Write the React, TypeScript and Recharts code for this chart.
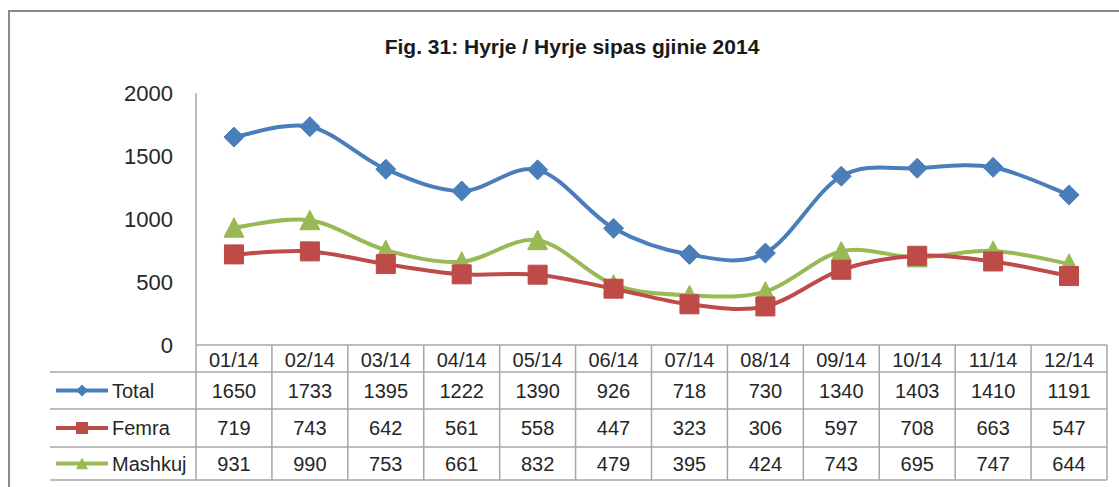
import React from "react";
import { LineChart, Line, XAxis, YAxis } from "recharts";

const CATEGORIES = ["01/14", "02/14", "03/14", "04/14", "05/14", "06/14", "07/14", "08/14", "09/14", "10/14", "11/14", "12/14"];
const TOTAL = [1650, 1733, 1395, 1222, 1390, 926, 718, 730, 1340, 1403, 1410, 1191];
const FEMRA = [719, 743, 642, 561, 558, 447, 323, 306, 597, 708, 663, 547];
const MASHKUJ = [931, 990, 753, 661, 832, 479, 395, 424, 743, 695, 747, 644];
const Y_TICKS = [0, 500, 1000, 1500, 2000];
const TITLE = "Fig. 31: Hyrje / Hyrje sipas gjinie 2014";

const SERIES = [
  { key: "Total", values: TOTAL, color: "#4a7ebb", marker: "diamond" },
  { key: "Femra", values: FEMRA, color: "#be4b48", marker: "square" },
  { key: "Mashkuj", values: MASHKUJ, color: "#98b954", marker: "triangle" },
];

const data = CATEGORIES.map((c, i) => ({
  month: c,
  Total: TOTAL[i],
  Femra: FEMRA[i],
  Mashkuj: MASHKUJ[i],
}));

// layout (chart coordinates)
const W = 1100;
const H = 475;
const M = { top: 81, right: 3, left: 0, bottom: 7 };
const Y_W = 186;
const TABLE_H = 135;
const PLOT_W = W - M.left - M.right - Y_W;
const BAND = PLOT_W / CATEGORIES.length;
const AXIS_Y = H - M.bottom - TABLE_H;
const ROWS = [AXIS_Y, AXIS_Y + 27, AXIS_Y + 64, AXIS_Y + 102, AXIS_Y + TABLE_H];
const GRID = "#a6a6a6";
const FONT = "'Liberation Sans', Arial, sans-serif";
const TEXT = "#262626";

// Excel style smoothing (catmull-rom as bezier)
function excelCurve(context: any) {
  let pts: number[][] = [];
  return {
    areaStart() {},
    areaEnd() {},
    lineStart() {
      pts = [];
    },
    point(x: number, y: number) {
      pts.push([+x, +y]);
    },
    lineEnd() {
      if (!pts.length) return;
      context.moveTo(pts[0][0], pts[0][1]);
      for (let i = 0; i < pts.length - 1; i++) {
        const p0 = pts[i - 1] || pts[i];
        const p1 = pts[i];
        const p2 = pts[i + 1];
        const p3 = pts[i + 2] || p2;
        context.bezierCurveTo(
          p1[0] + (p2[0] - p0[0]) / 6,
          p1[1] + (p2[1] - p0[1]) / 6,
          p2[0] - (p3[0] - p1[0]) / 6,
          p2[1] - (p3[1] - p1[1]) / 6,
          p2[0],
          p2[1]
        );
      }
    },
  };
}

function markerPath(kind: string, cx: number, cy: number, s: number) {
  if (kind === "diamond") return `M${cx},${cy - s}L${cx + s},${cy}L${cx},${cy + s}L${cx - s},${cy}Z`;
  if (kind === "square") return `M${cx - s},${cy - s}h${2 * s}v${2 * s}h${-2 * s}Z`;
  return `M${cx},${cy - s}L${cx + s},${cy + s * 0.95}L${cx - s},${cy + s * 0.95}Z`;
}

const makeDot = (kind: string, color: string, s: number) => (props: any) => {
  const { cx, cy, index } = props;
  return <path key={`${kind}-${index}`} d={markerPath(kind, cx, cy, s)} fill={color} stroke={color} strokeWidth={1} />;
};

function TableTick(props: any) {
  const { x, payload, index } = props;
  const i = index;
  const left = x - BAND / 2;
  const right = x + BAND / 2;
  const centers = [
    (ROWS[0] + ROWS[1]) / 2 + 1,
    (ROWS[1] + ROWS[2]) / 2,
    (ROWS[2] + ROWS[3]) / 2,
    (ROWS[3] + ROWS[4]) / 2,
  ];
  const textProps = { fontFamily: FONT, fontSize: 20, fill: TEXT, textAnchor: "middle" as const, dominantBaseline: "central" as const };
  return (
    <g>
      {i === 0 && (
        <g>
          {ROWS.slice(1).map((ry) => (
            <line key={ry} x1={40} x2={M.left + Y_W + PLOT_W} y1={ry} y2={ry} stroke={GRID} strokeWidth={1.5} />
          ))}
          <line x1={left} x2={left} y1={ROWS[0]} y2={ROWS[4]} stroke={GRID} strokeWidth={1.5} />
          {SERIES.map((s, k) => {
            const cy = centers[k + 1];
            return (
              <g key={s.key}>
                <line x1={46} x2={98} y1={cy} y2={cy} stroke={s.color} strokeWidth={4} />
                <path d={markerPath(s.marker, 72, cy, 6)} fill={s.color} />
                <text x={102} y={cy} fontFamily={FONT} fontSize={20} fill={TEXT} dominantBaseline="central">
                  {s.key}
                </text>
              </g>
            );
          })}
        </g>
      )}
      <line x1={right} x2={right} y1={ROWS[0]} y2={ROWS[4]} stroke={GRID} strokeWidth={1.5} />
      <text x={x} y={centers[0]} {...textProps}>
        {payload.value}
      </text>
      {SERIES.map((s, k) => (
        <text key={s.key} x={x} y={centers[k + 1]} {...textProps}>
          {s.values[i]}
        </text>
      ))}
    </g>
  );
}

export default function App() {
  return (
    <div
      style={{
        position: "absolute",
        left: 8,
        top: 10,
        width: 1111,
        height: 477,
        borderTop: "2px solid #8c8c8c",
        borderLeft: "2px solid #8c8c8c",
        boxSizing: "border-box",
        background: "#fff",
      }}
    >
      <div
        style={{
          position: "absolute",
          left: 0,
          top: 22,
          width: 1124,
          textAlign: "center",
          fontFamily: FONT,
          fontWeight: "bold",
          fontSize: 21,
          lineHeight: "26px",
          color: "#1a1a1a",
        }}
      >
        {TITLE}
      </div>
      <LineChart width={W} height={H} data={data} margin={M}>
        <XAxis
          dataKey="month"
          interval={0}
          height={TABLE_H}
          padding={{ left: BAND / 2, right: BAND / 2 }}
          axisLine={{ stroke: GRID, strokeWidth: 1.5 }}
          tickLine={false}
          tick={<TableTick />}
        />
        <YAxis
          width={Y_W}
          domain={[0, 2000]}
          ticks={Y_TICKS}
          interval={0}
          axisLine={{ stroke: GRID, strokeWidth: 1.5 }}
          tickLine={false}
          tickMargin={17}
          tick={{ fontFamily: FONT, fontSize: 22, fill: TEXT }}
        />
        <Line
          dataKey="Mashkuj"
          type={excelCurve as any}
          stroke="#98b954"
          strokeWidth={4}
          dot={makeDot("triangle", "#98b954", 10)}
          isAnimationActive={false}
        />
        <Line
          dataKey="Femra"
          type={excelCurve as any}
          stroke="#be4b48"
          strokeWidth={4}
          dot={makeDot("square", "#be4b48", 9.5)}
          isAnimationActive={false}
        />
        <Line
          dataKey="Total"
          type={excelCurve as any}
          stroke="#4a7ebb"
          strokeWidth={4}
          dot={makeDot("diamond", "#4a7ebb", 10)}
          isAnimationActive={false}
        />
      </LineChart>
    </div>
  );
}
